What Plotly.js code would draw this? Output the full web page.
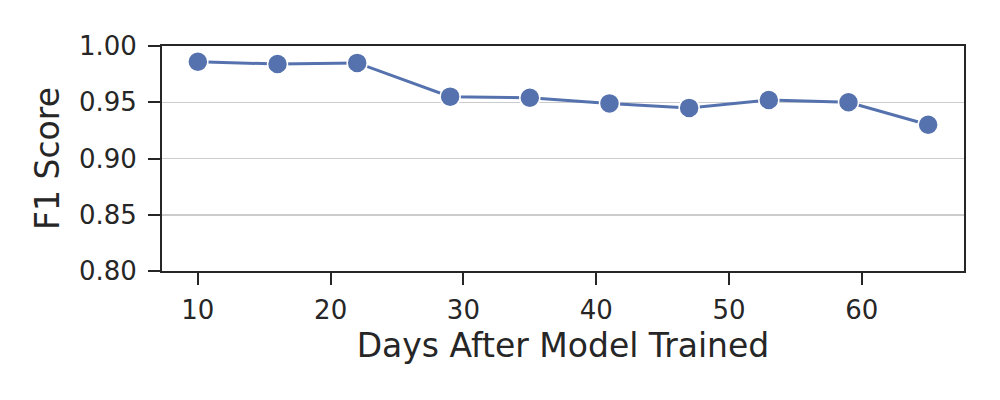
<!DOCTYPE html>
<html>
<head>
<meta charset="utf-8">
<script src="https://cdn.plot.ly/plotly-3.0.1.min.js"></script>
<style>
  body { margin: 0; background: #fff; }
  #chart { width: 1000px; height: 400px; }
</style>
</head>
<body>
<div id="chart"></div>
<script>
const days = [10, 16, 22, 29, 35, 41, 47, 53, 59, 65];
const f1 = [0.986, 0.984, 0.985, 0.955, 0.954, 0.949, 0.945, 0.952, 0.950, 0.930];
const yTicks = [0.80, 0.85, 0.90, 0.95, 1.00];
const xTicks = [10, 20, 30, 40, 50, 60];

const ink = '#262626';

const trace = {
  x: days,
  y: f1,
  type: 'scatter',
  mode: 'lines+markers',
  line: { color: '#5572ae', width: 3 },
  marker: { color: '#5572ae', size: 20, line: { color: '#ffffff', width: 1.5 } },
  cliponaxis: false,
  showlegend: false
};

const layout = {
  width: 1000,
  height: 400,
  margin: { l: 162, r: 36, t: 46, b: 129 },
  paper_bgcolor: '#ffffff',
  plot_bgcolor: '#ffffff',
  font: { family: 'DejaVu Sans', color: ink, size: 26 },
  xaxis: {
    range: [7.3, 67.7],
    tickvals: xTicks,
    ticks: 'outside',
    ticklen: 12,
    tickwidth: 2,
    tickcolor: ink,
    ticklabelstandoff: 3,
    showgrid: false,
    zeroline: false,
    showline: true,
    mirror: true,
    linecolor: ink,
    linewidth: 2,
    title: { text: 'Days After Model Trained', font: { size: 33 }, standoff: 10 }
  },
  yaxis: {
    range: [0.80, 1.00],
    tickvals: yTicks,
    ticktext: yTicks.map(v => v.toFixed(2)),
    ticks: 'outside',
    ticklen: 12,
    tickwidth: 2,
    tickcolor: ink,
    ticklabelstandoff: 6,
    showgrid: true,
    gridcolor: '#cccccc',
    gridwidth: 1.5,
    zeroline: false,
    showline: true,
    mirror: true,
    linecolor: ink,
    linewidth: 2,
    title: { text: 'F1 Score', font: { size: 33 }, standoff: 9 }
  }
};

Plotly.newPlot('chart', [trace], layout, { displayModeBar: false, staticPlot: true });
</script>
</body>
</html>
